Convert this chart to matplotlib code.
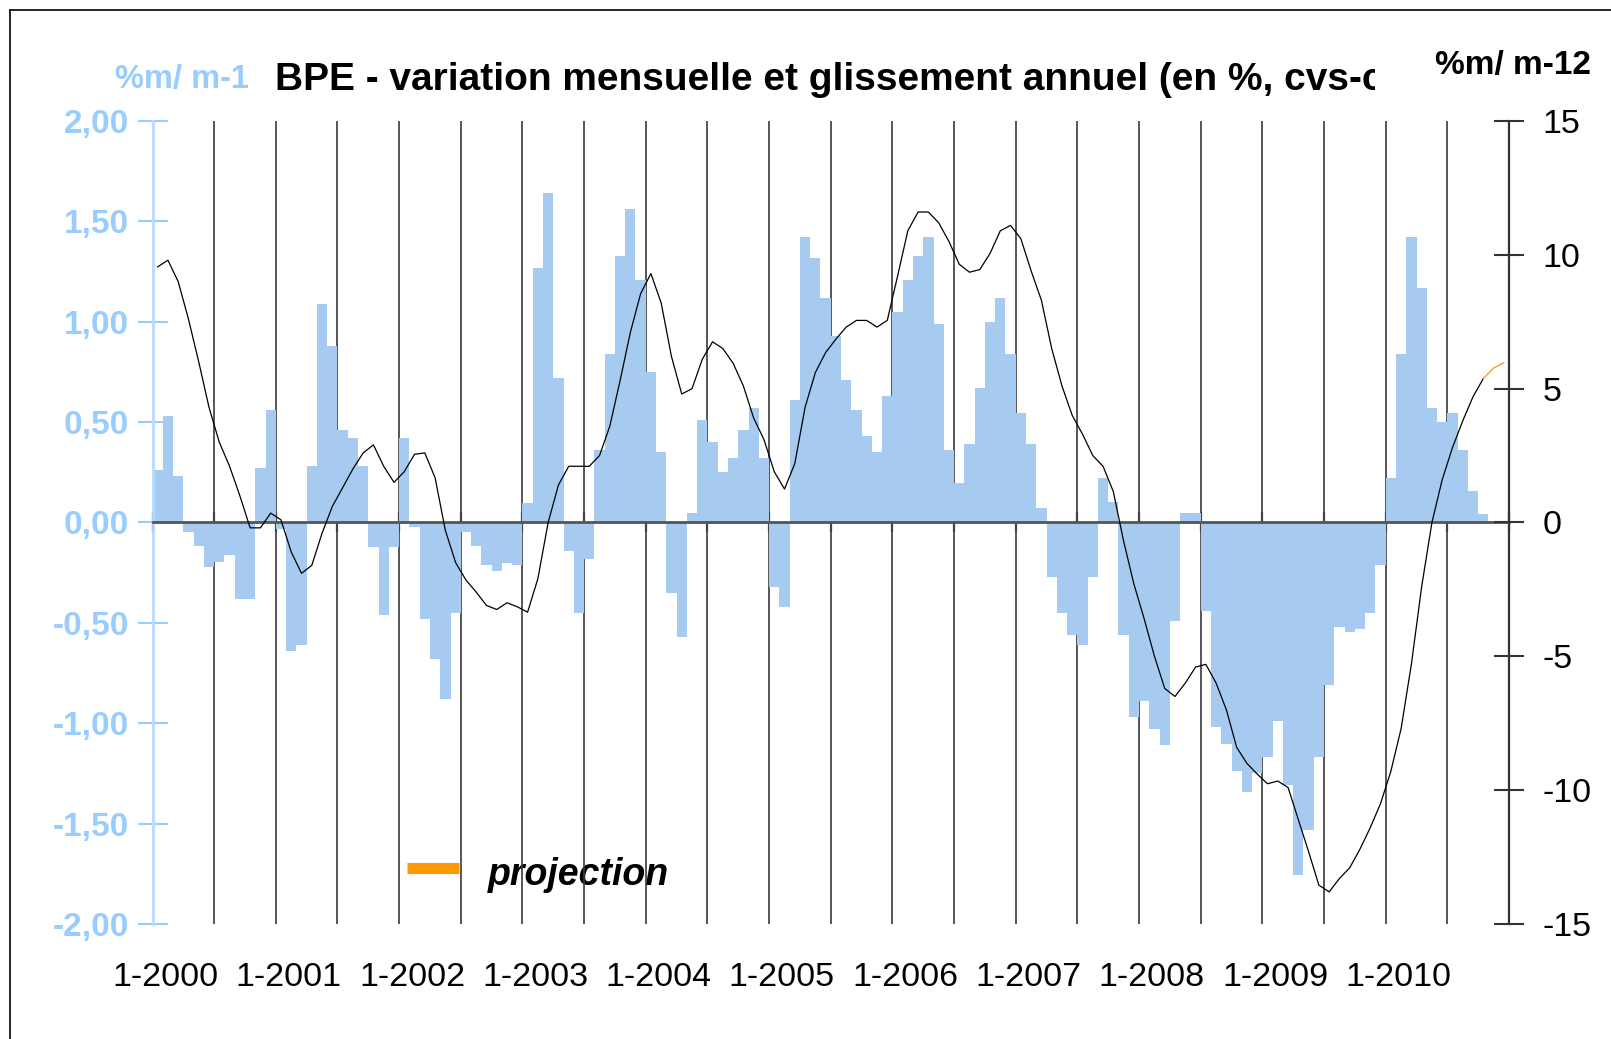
import numpy as np
import matplotlib
matplotlib.use("Agg")
import matplotlib.pyplot as plt
from matplotlib.transforms import Bbox, TransformedBbox, blended_transform_factory
from matplotlib.lines import Line2D

plt.rcParams['font.family'] = ['Liberation Sans', 'DejaVu Sans']

# ---------------- data ----------------
year_labels = ['1-2000', '1-2001', '1-2002', '1-2003', '1-2004', '1-2005',
               '1-2006', '1-2007', '1-2008', '1-2009', '1-2010']

# monthly change (%m/m-1), Jan 2000 ... Oct 2010
mom = [0.26, 0.53, 0.23, -0.045, -0.115, -0.22, -0.195, -0.16, -0.38, -0.38, 0.27, 0.56,
       -0.03, -0.64, -0.61, 0.28, 1.09, 0.88, 0.46, 0.42, 0.28, -0.12, -0.46, -0.12,
       0.42, -0.02, -0.48, -0.68, -0.88, -0.45, -0.045, -0.115, -0.21, -0.24, -0.20, -0.21,
       0.095, 1.27, 1.64, 0.72, -0.14, -0.45, -0.18, 0.36, 0.84, 1.33, 1.56, 1.21,
       0.75, 0.35, -0.35, -0.57, 0.045, 0.51, 0.40, 0.25, 0.32, 0.46, 0.57, 0.32,
       -0.32, -0.42, 0.61, 1.42, 1.32, 1.12, 0.93, 0.71, 0.56, 0.43, 0.35, 0.63,
       1.05, 1.21, 1.33, 1.42, 0.99, 0.36, 0.195, 0.39, 0.67, 1.0, 1.12, 0.84,
       0.545, 0.39, 0.07, -0.27, -0.45, -0.56, -0.61, -0.27, 0.22, 0.10, -0.56, -0.97,
       -0.89, -1.03, -1.11, -0.49, 0.045, 0.045, -0.44, -1.02, -1.105, -1.24, -1.34, -1.25,
       -1.17, -0.99, -1.31, -1.755, -1.53, -1.17, -0.81, -0.52, -0.545, -0.53, -0.45, -0.21,
       0.22, 0.84, 1.42, 1.17, 0.57, 0.50, 0.545, 0.36, 0.155, 0.04]

# annual change (%m/m-12), Jan 2000 ... Oct 2010
yoy = [9.55, 9.8, 9.0, 7.6, 6.0, 4.3, 3.0, 2.1, 1.0, -0.2, -0.2, 0.35,
       0.1, -1.1, -1.9, -1.6, -0.4, 0.6, 1.3, 2.0, 2.6, 2.9, 2.1, 1.5,
       1.9, 2.55, 2.6, 1.67, -0.3, -1.5, -2.15, -2.6, -3.1, -3.25, -3.0, -3.15,
       -3.35, -2.1, 0.0, 1.4, 2.1, 2.1, 2.1, 2.5, 3.6, 5.3, 7.1, 8.55,
       9.3, 8.2, 6.2, 4.8, 5.0, 6.1, 6.75, 6.5, 5.95, 5.1, 3.9, 3.1,
       1.9, 1.25, 2.2, 4.3, 5.6, 6.35, 6.85, 7.3, 7.55, 7.55, 7.3, 7.55,
       9.2, 10.9, 11.6, 11.6, 11.2, 10.5, 9.65, 9.35, 9.45, 10.05, 10.9, 11.1,
       10.6, 9.4, 8.3, 6.5, 5.1, 4.0, 3.3, 2.5, 2.1, 1.15, -0.7, -2.3,
       -3.6, -5.0, -6.2, -6.5, -6.0, -5.4, -5.3, -6.0, -7.0, -8.4, -9.0, -9.4,
       -9.76, -9.66, -9.9, -11.1, -12.3, -13.55, -13.8, -13.3, -12.9, -12.2, -11.4, -10.5,
       -9.3, -7.7, -5.3, -2.4, 0.0, 1.6, 2.8, 3.8, 4.7, 5.38]

# projection (Oct 2010 ... Dec 2010)
proj = [5.38, 5.77, 5.97]

left_ticks = [-2.0, -1.5, -1.0, -0.5, 0.0, 0.5, 1.0, 1.5, 2.0]
right_ticks = [-15, -10, -5, 0, 5, 10, 15]

title = "BPE - variation mensuelle et glissement annuel (en %, cvs-cjo)"

# ---------------- layout ----------------
W, H = 1611, 1039
fig = plt.figure(figsize=(W / 100, H / 100), dpi=100)
fig.patch.set_facecolor('white')


def fx(px):
    return px / W


def fy(py):
    return 1 - py / H


L, R, T, B = 152.5, 1509, 121, 924
ax = fig.add_axes([fx(L), fy(B), (R - L) / W, (B - T) / H])

n_months = 12 * len(year_labels)
x = np.arange(n_months) + 0.5

BLUE_TXT = '#99CCFF'
BAR = '#A6CAF0'

ax.bar(x[:len(mom)], mom, width=1.0, color=BAR, edgecolor='none', zorder=2)
ax.set_xlim(0, n_months)
ax.set_ylim(-2, 2)

for m in range(6, n_months, 6):
    ax.axvline(m, color='#3a3a3a', lw=1.2, zorder=1)

for s in ['top', 'right']:
    ax.spines[s].set_visible(False)
ax.spines['bottom'].set_position(('data', 0))
ax.spines['bottom'].set_color('#555555')
ax.spines['bottom'].set_linewidth(2)
ax.spines['left'].set_color('#B5DAFF')
ax.spines['left'].set_linewidth(2)

ax.set_xticks(range(0, n_months + 1, 6))
ax.tick_params(axis='x', direction='inout', length=14, width=1.6, color='#444444',
               labelbottom=False)
ax.set_yticks(left_ticks)
ax.set_yticklabels([f"{v:.2f}".replace('.', ',') for v in left_ticks])
ax.tick_params(axis='y', direction='inout', length=22, width=1.5, color=BLUE_TXT,
               labelcolor=BLUE_TXT, labelsize=24, pad=6)
for lab in ax.get_yticklabels():
    lab.set_fontweight('bold')

# year labels
tr = blended_transform_factory(ax.transData, ax.transAxes)
for i, lab in enumerate(year_labels):
    ax.text(12 * i + 1.25, (B - 986) / (B - T), lab, transform=tr, ha='center',
            va='baseline', fontsize=24.5, color='black', clip_on=False)

# right axis
ax2 = ax.twinx()
ax2.set_ylim(-15, 15)
nl = len(yoy)
ax2.plot(x[:nl], yoy, color='black', lw=0.9, zorder=3)
ax2.plot(x[nl - 1:nl - 1 + len(proj)], proj, color='#FF9900', lw=0.9, zorder=3)
for s in ['top', 'left', 'bottom']:
    ax2.spines[s].set_visible(False)
ax2.spines['right'].set_color('#333333')
ax2.spines['right'].set_linewidth(1.6)
ax2.set_yticks(right_ticks)
ax2.set_yticklabels([str(v) for v in right_ticks])
ax2.tick_params(axis='y', direction='inout', length=22, width=1.5, color='#333333',
                labelcolor='black', labelsize=24.5, pad=13)

# legend "projection" (behind grid lines)
ax.add_line(Line2D([fx(407), fx(459)], [fy(867.5), fy(867.5)], transform=fig.transFigure,
                   color='#FF9900', lw=8, solid_capstyle='butt', zorder=0.8))
ax.text(fx(488), fy(885), 'projection', transform=fig.transFigure, fontsize=27,
        fontweight='bold', fontstyle='italic', va='baseline', ha='left', zorder=0.5)

# titles
t = fig.text(fx(275), fy(90), title, fontsize=28, fontweight='bold', va='baseline', ha='left')
t.set_clip_box(TransformedBbox(Bbox([[fx(0), 0], [fx(1375), 1]]), fig.transFigure))
t.set_clip_on(True)
fig.text(fx(115), fy(88), '%m/ m-1', fontsize=23.5, fontweight='bold', color=BLUE_TXT,
         va='baseline', ha='left')
fig.text(fx(1435), fy(74), '%m/ m-12', fontsize=24, fontweight='bold', color='black',
         va='baseline', ha='left')

# outer frame (left and top edges)
fig.add_artist(Line2D([fx(9.5), fx(9.5)], [fy(9.5), 0], transform=fig.transFigure,
                      color='black', lw=1.2))
fig.add_artist(Line2D([fx(9.5), 1], [fy(9.5), fy(9.5)], transform=fig.transFigure,
                      color='black', lw=1.2))

fig.savefig('out.png', dpi=100, facecolor='white')
